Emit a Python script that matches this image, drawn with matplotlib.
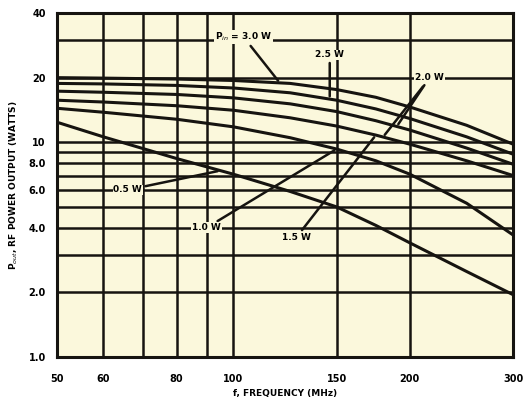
import matplotlib
matplotlib.use("Agg")
import matplotlib.pyplot as plt
import numpy as np

# ---- data ----
freq = [50, 60, 80, 100, 125, 150, 175, 200, 250, 300]
pin_labels = ["3.0", "2.5", "2.0", "1.5", "1.0", "0.5"]
p30 = [20.0, 19.9, 19.7, 19.4, 18.8, 17.6, 16.2, 14.6, 12.0, 9.8]
p25 = [18.8, 18.7, 18.4, 17.9, 17.0, 15.7, 14.3, 12.9, 10.6, 8.8]
p20 = [17.3, 17.1, 16.7, 16.1, 15.1, 13.9, 12.6, 11.4, 9.4, 7.9]
p15 = [15.7, 15.4, 14.8, 14.1, 13.0, 11.9, 10.8, 9.8, 8.2, 7.0]
p10 = [14.4, 13.8, 12.8, 11.8, 10.5, 9.3, 8.2, 7.1, 5.2, 3.7]
p05 = [12.4, 10.6, 8.4, 7.1, 5.9, 5.0, 4.1, 3.4, 2.5, 1.95]
curves = [p30, p25, p20, p15, p10, p05]

x_grid = [50, 60, 70, 80, 90, 100, 150, 200, 300]
x_ticks = [50, 60, 80, 100, 150, 200, 300]
x_ticklabels = ["50", "60", "80", "100", "150", "200", "300"]
y_grid = [1, 2, 3, 4, 5, 6, 7, 8, 9, 10, 20, 30, 40]
y_ticks = [1, 2, 4, 6, 8, 10, 20, 40]
y_ticklabels = ["1.0", "2.0", "4.0", "6.0", "8.0", "10", "20", "40"]

fig = plt.figure(figsize=(5.30, 4.07), dpi=100)
fig.patch.set_facecolor("white")
ax = fig.add_axes([0.1075, 0.123, 0.8605, 0.845])
ax.set_facecolor("#fbf8dc")
ax.set_xscale("log")
ax.set_yscale("log")
ax.set_xlim(50, 300)
ax.set_ylim(1, 40)

for xv in x_grid:
    ax.axvline(xv, color="#161410", lw=1.8, zorder=1)
for yv in y_grid:
    ax.axhline(yv, color="#161410", lw=1.8, zorder=1)

for c in curves:
    ax.plot(freq, c, color="#161410", lw=2.2, zorder=3, solid_capstyle="butt")

ax.set_xticks(x_ticks)
ax.set_xticklabels(x_ticklabels)
ax.set_yticks(y_ticks)
ax.set_yticklabels(y_ticklabels)
ax.minorticks_off()
ax.tick_params(length=0, labelsize=7)
ax.tick_params(axis="x", pad=12)
ax.tick_params(axis="y", pad=8)
for lab in ax.get_xticklabels() + ax.get_yticklabels():
    lab.set_fontweight("bold")
for s in ax.spines.values():
    s.set_linewidth(2.2)
    s.set_color("#161410")

ax.set_xlabel("f, FREQUENCY (MHz)", fontsize=6.5, fontweight="bold", labelpad=4)
ax.set_ylabel(r"P$_{out}$, RF POWER OUTPUT (WATTS)", fontsize=6.5, fontweight="bold", labelpad=6)

def interp(curve, f):
    return float(np.exp(np.interp(np.log(f), np.log(freq), np.log(curve))))

box = dict(facecolor="#fbf8dc", edgecolor="none", pad=0.5)
txt = dict(fontsize=6.5, fontweight="bold", ha="center", va="center", zorder=5, bbox=box)
arr = dict(arrowstyle="-", color="#161410", lw=1.8)

ax.annotate(r"P$_{in}$ = 3.0 W", xy=(120, interp(p30, 120)), xytext=(104, 31),
            arrowprops=arr, **txt)
ax.annotate("2.5 W", xy=(146, interp(p25, 146)), xytext=(146, 25.5),
            arrowprops=arr, **txt)
ax.annotate("2.0 W", xy=(190, interp(p20, 190)), xytext=(216, 20),
            arrowprops=arr, **txt)
ax.annotate("", xy=(180, interp(p15, 180)), xytext=(212, 18.6),
            arrowprops=arr)
ax.annotate("0.5 W", xy=(95, interp(p05, 95)), xytext=(66, 6.0),
            arrowprops=arr, **txt)
ax.annotate("1.0 W", xy=(150, interp(p10, 150)), xytext=(90, 4.0),
            arrowprops=arr, **txt)
ax.annotate("1.5 W", xy=(175, interp(p15, 175)), xytext=(128, 3.6),
            arrowprops=arr, **txt)

fig.savefig("out.png", dpi=100, facecolor=fig.get_facecolor())
